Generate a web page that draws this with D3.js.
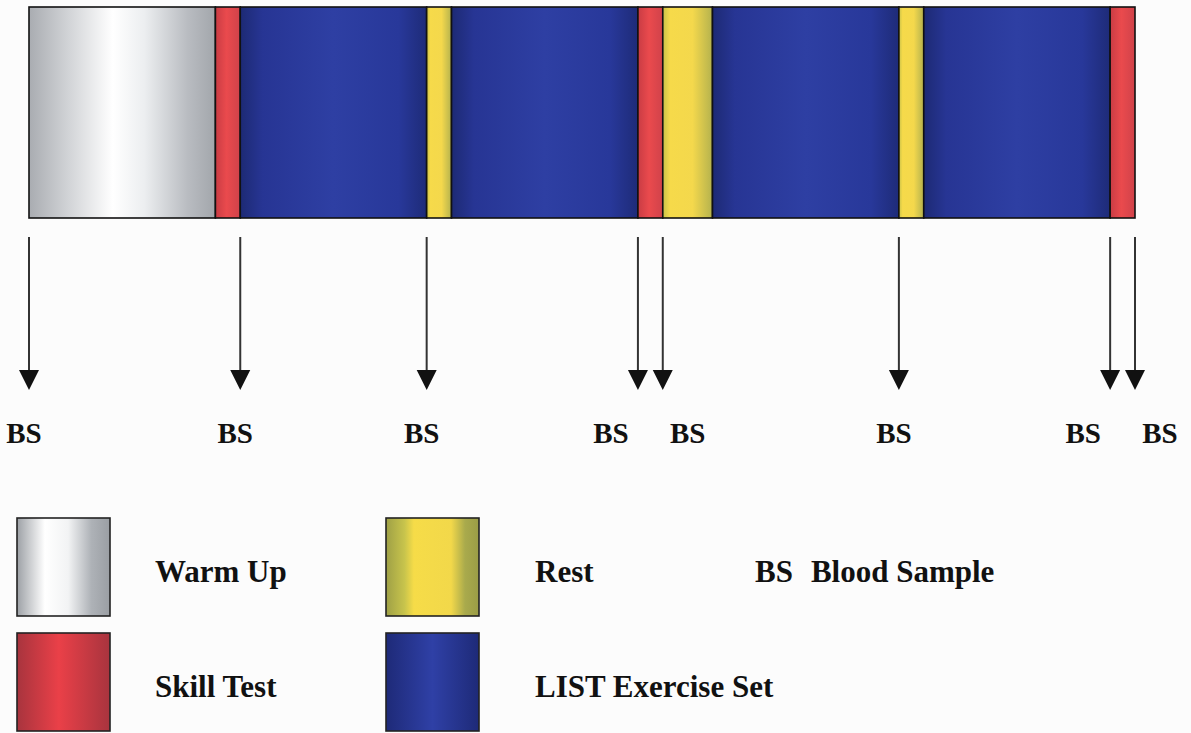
<html><head>
<title>LIST protocol timeline</title>
<style>
body {
  margin: 0;
  background: #fcfcfc;
}
svg text {
  font-family: "Liberation Serif", "Times New Roman", serif;
  font-weight: bold;
  fill: #111;
}
</style>
<script src="https://cdnjs.cloudflare.com/ajax/libs/d3/7.8.5/d3.min.js"></script>
</head>
<body>
<div id="chart"></div>
<script>
// protocol blocks, in minutes
const segTypes = ["warm", "skill", "list", "rest", "list", "skill", "rest", "list", "rest", "list", "skill"];
const segMinutes = [15, 2, 15, 2, 15, 2, 4, 15, 2, 15, 2];

// blood samples taken at these times (minutes)
const sampleTimes = [0, 17, 32, 49, 51, 70, 87, 89];
const sampleLabel = "BS";

// legend
const legendTypes = ["warm", "rest", "skill", "list"];
const legendLabels = ["Warm Up", "Rest", "Skill Test", "LIST Exercise Set"];
const noteKey = "BS";
const noteText = "Blood Sample";

const W = 1191, H = 733;

const svg = d3.select("#chart")
  .append("svg")
  .attr("width", W)
  .attr("height", H);

const defs = svg.append("defs");

// fills, stretched over each block
const gradients = {
  warm: [[0, "#a9acb1"], [0.22, "#d3d5d8"], [0.45, "#ffffff"], [0.62, "#eceef0"], [0.85, "#b9bcc1"], [1, "#a2a6ab"]],
  skill: [[0, "#c93c44"], [0.45, "#ea4a4d"], [1, "#d0424a"]],
  list: [[0, "#1d2a74"], [0.12, "#273594"], [0.5, "#2e3fa3"], [0.85, "#28389a"], [1, "#1e2b78"]],
  rest: [[0, "#c9c24a"], [0.15, "#f6da4a"], [0.6, "#f4d84c"], [1, "#b4b24e"]]
};
const legendGradients = {
  warm: [[0, "#9da1a6"], [0.3, "#ffffff"], [0.55, "#f2f3f4"], [0.8, "#aeb2b7"], [1, "#9a9ea3"]],
  skill: [[0, "#a8343e"], [0.45, "#ea4048"], [1, "#a8343e"]],
  list: [[0, "#1e2a78"], [0.5, "#2f40a6"], [1, "#1e2a78"]],
  rest: [[0, "#9ea046"], [0.2, "#c8c44c"], [0.3, "#f6dc48"], [0.7, "#f2d84a"], [0.85, "#a9aa4c"], [1, "#9a9c46"]]
};

function addGradient(id, stops) {
  const g = defs.append("linearGradient")
    .attr("id", id)
    .attr("x1", "0%").attr("x2", "100%")
    .attr("y1", "0%").attr("y2", "0%");
  stops.forEach(s => {
    g.append("stop").attr("offset", s[0]).attr("stop-color", s[1]);
  });
}
Object.keys(gradients).forEach(k => addGradient("g-" + k, gradients[k]));
Object.keys(legendGradients).forEach(k => addGradient("lg-" + k, legendGradients[k]));

// time scale
const total = d3.sum(segMinutes);
const x = d3.scaleLinear()
  .domain([0, total])
  .range([29, 1135]);

const segs = [];
let t = 0;
segTypes.forEach((type, i) => {
  segs.push({type: type, start: t, end: t + segMinutes[i]});
  t += segMinutes[i];
});

const barTop = 7, barBottom = 218;

svg.append("g")
  .selectAll("rect")
  .data(segs)
  .join("rect")
  .attr("x", d => x(d.start))
  .attr("y", barTop)
  .attr("width", d => x(d.end) - x(d.start))
  .attr("height", barBottom - barTop)
  .attr("fill", d => "url(#g-" + d.type + ")")
  .attr("stroke", "#111")
  .attr("stroke-width", 1.6);

// arrows
const arrowTop = 237, headTop = 370, headTip = 390, headHalf = 10;

const arrows = svg.append("g")
  .selectAll("g")
  .data(sampleTimes)
  .join("g");

arrows.append("line")
  .attr("x1", d => x(d))
  .attr("x2", d => x(d))
  .attr("y1", arrowTop)
  .attr("y2", headTop + 2)
  .attr("stroke", "#333")
  .attr("stroke-width", 2);

arrows.append("path")
  .attr("d", d => {
    const cx = x(d);
    return `M${cx - headHalf},${headTop} L${cx + headHalf},${headTop} L${cx},${headTip} Z`;
  })
  .attr("fill", "#111");

// labels: nudge apart when two samples sit close together
const px = sampleTimes.map(d => x(d));
arrows.append("text")
  .attr("x", (d, i) => {
    let off = -5;
    if (i < px.length - 1 && px[i + 1] - px[i] < 40) off = -27;
    if (i > 0 && px[i] - px[i - 1] < 40) off = 25;
    return px[i] + off;
  })
  .attr("y", 443)
  .attr("text-anchor", "middle")
  .style("font-size", "29px")
  .text(sampleLabel);

// legend
const legCols = [17, 386];
const legRows = [518, 633];
const swW = 93, swH = 98;

const leg = svg.append("g")
  .selectAll("g")
  .data(legendTypes)
  .join("g")
  .attr("transform", (d, i) => `translate(${legCols[i % 2]},${legRows[Math.floor(i / 2)]})`);

leg.append("rect")
  .attr("width", swW)
  .attr("height", swH)
  .attr("fill", d => "url(#lg-" + d + ")")
  .attr("stroke", "#222")
  .attr("stroke-width", 1.6);

leg.append("text")
  .attr("x", (d, i) => i % 2 === 0 ? 138 : 149)
  .attr("y", swH / 2 + 15)
  .style("font-size", "31px")
  .text((d, i) => legendLabels[i]);

const note = svg.append("text")
  .attr("x", 755)
  .attr("y", legRows[0] + swH / 2 + 15)
  .style("font-size", "31px");
note.append("tspan").text(noteKey);
note.append("tspan").attr("dx", 18).text(noteText);
</script>
</body>
</html>
